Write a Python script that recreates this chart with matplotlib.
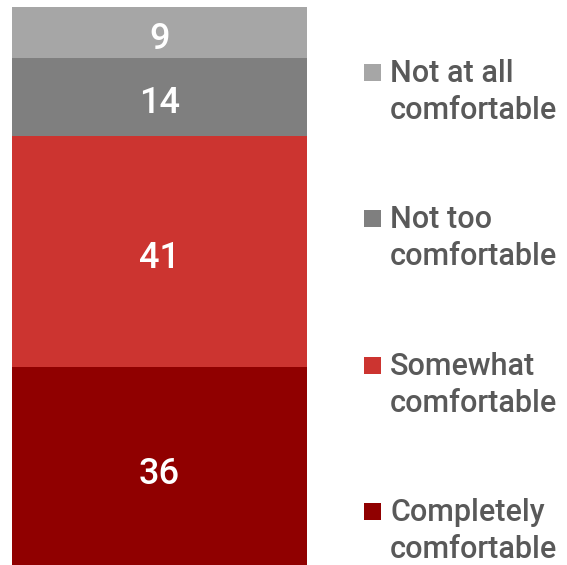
import matplotlib.pyplot as plt
from matplotlib.patches import Rectangle

# stacked from bottom to top
categories = ['Completely\ncomfortable', 'Somewhat\ncomfortable',
              'Not too\ncomfortable', 'Not at all\ncomfortable']
values = [36, 41, 14, 9]
colors = ['#900000', '#CC3430', '#7F7F7F', '#A6A6A6']

plt.rcParams['font.family'] = ['Roboto', 'DejaVu Sans']

fig = plt.figure(figsize=(5.67, 5.65), dpi=100)
ax = fig.add_axes([12 / 567, -4 / 565, 295 / 567, 562 / 565])

bottom = 0
for v, c in zip(values, colors):
    ax.bar(0, v, width=1, bottom=bottom, color=c, linewidth=0)
    ax.annotate(str(v), (0, bottom + v / 2), xytext=(0, -2),
                textcoords='offset points', ha='center',
                va='center_baseline', color='white', fontsize=26,
                fontweight='medium')
    bottom += v

ax.set_xlim(-0.5, 0.5)
ax.set_ylim(0, 100)
ax.axis('off')

# legend, top entry first
W, H = 567, 565
for i, (lab, c) in enumerate(zip(categories[::-1], colors[::-1])):
    base = 82 + i * 146.3
    fig.add_artist(Rectangle((364 / W, 1 - (base - 1) / H), 17 / W, 17 / H,
                             transform=fig.transFigure, color=c, lw=0))
    for j, line in enumerate(lab.split('\n')):
        fig.text(390 / W, 1 - (base + j * 37) / H, line, ha='left',
                 va='baseline', fontsize=22, fontweight='medium',
                 color='#595959')

fig.savefig('out.png', dpi=100, facecolor='white')
